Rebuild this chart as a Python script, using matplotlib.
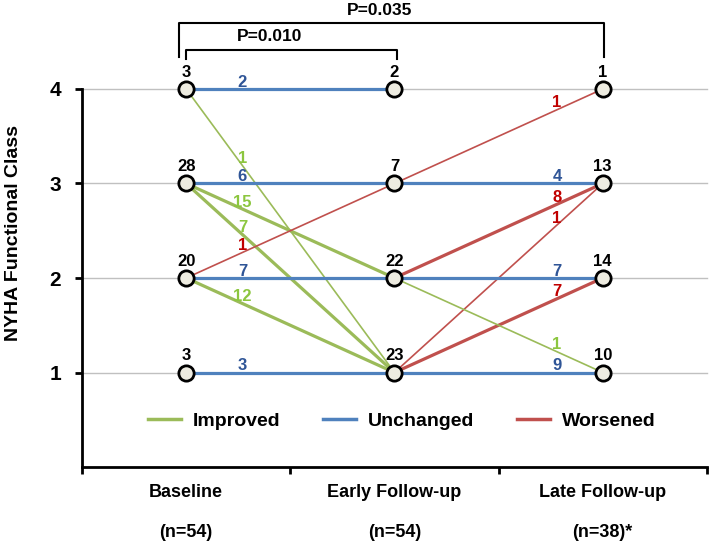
import numpy as np
import matplotlib
matplotlib.use("Agg")
import matplotlib.pyplot as plt
from matplotlib.lines import Line2D

# stages and NYHA class counts (class 1..4)
stages = ["Baseline", "Early Follow-up", "Late Follow-up"]
n_labels = ["(n=54)", "(n=54)", "(n=38)*"]
classes = [1, 2, 3, 4]
baseline_counts = [3, 20, 28, 3]
early_counts = [23, 22, 7, 2]
late_counts = [10, 14, 13, 1]

# transitions baseline -> early follow-up
t1_from = [4, 4, 3, 3, 3, 2, 2, 2, 1]
t1_to = [4, 1, 3, 2, 1, 3, 2, 1, 1]
t1_n = [2, 1, 6, 15, 7, 1, 7, 12, 3]

# transitions early -> late follow-up
t2_from = [3, 3, 2, 1, 2, 1, 2, 1]
t2_to = [4, 3, 3, 3, 2, 2, 1, 1]
t2_n = [1, 4, 8, 1, 7, 7, 1, 9]

p_labels = ["P=0.010", "P=0.035"]

line_col = {"Improved": "#9BBB59", "Unchanged": "#4F81BD", "Worsened": "#C0504D"}
text_col = {"Improved": "#8CC63F", "Unchanged": "#2F5597", "Worsened": "#C00000"}

plt.rcParams['font.family'] = ['Liberation Sans', 'DejaVu Sans']
plt.rcParams['font.weight'] = 'bold'

fig = plt.figure(figsize=(7.09, 5.48), dpi=100)
ax = fig.add_axes([0.1157, 0.1478, 0.8813, 0.6898])

xpos = [0.5, 1.5, 2.5]


def kind(a, b):
    if b < a:
        return "Improved"
    if b == a:
        return "Unchanged"
    return "Worsened"


def draw_segment(x0, x1, froms, tos, ns, frac):
    for a, b, n in zip(froms, tos, ns):
        k = kind(a, b)
        lw = 1.2 if n == 1 else 2.3
        ax.plot([x0, x1], [a, b], color=line_col[k], lw=lw, zorder=2,
                solid_capstyle='butt', clip_on=False)
        lx = x0 + frac * (x1 - x0)
        ly = a + frac * (b - a)
        ax.annotate(str(n), (lx, ly), xytext=(0, 5), textcoords='offset points',
                    ha='center', va='center', fontsize=12, fontweight='bold',
                    color=text_col[k], zorder=4)


for y in classes:
    ax.axhline(y, color='#C0C0C0', lw=1, zorder=0, clip_on=False)

draw_segment(xpos[0], xpos[1], t1_from, t1_to, t1_n, 0.27)
draw_segment(xpos[1], xpos[2], t2_from, t2_to, t2_n, 0.78)

for x, counts in zip(xpos, [baseline_counts, early_counts, late_counts]):
    for c, n in zip(classes, counts):
        ax.plot(x, c, 'o', ms=11, mfc='#EEECE1', mec='black', mew=2,
                zorder=5, clip_on=False)
        ax.annotate(str(n), (x, c), xytext=(0, 12), textcoords='offset points',
                    ha='center', va='center', fontsize=12, fontweight='bold',
                    color='black', zorder=6, annotation_clip=False)

# significance brackets
ax.plot([0.50, 0.50, 1.51, 1.51], [4.32, 4.41, 4.41, 4.32], color='black',
        lw=1.5, clip_on=False)
ax.plot([0.465, 0.465, 2.505, 2.505], [4.34, 4.70, 4.70, 4.34], color='black',
        lw=1.5, clip_on=False)
ax.text(0.90, 4.56, p_labels[0], ha='center', va='center', fontsize=12.5,
        fontweight='bold')
ax.text(1.43, 4.83, p_labels[1], ha='center', va='center', fontsize=12.5,
        fontweight='bold')

ax.set_xlim(0, 3)
ax.set_ylim(0, 4)
ax.set_yticks(classes)
ax.set_yticklabels([str(c) for c in classes], fontsize=15, fontweight='bold')
ax.set_xticks([0, 1, 2, 3])
ax.set_xticklabels([])
ax.set_xticks(xpos, minor=True)
ax.set_xticklabels([s + "\n\n" + n for s, n in zip(stages, n_labels)],
                   minor=True, fontsize=13, fontweight='bold',
                   linespacing=1.25)
ax.tick_params(axis='x', which='minor', length=0, pad=12)
ax.tick_params(axis='x', which='major', length=5, width=2, direction='out')
ax.tick_params(axis='y', length=5, width=2, direction='out', pad=10)

for s in ['top', 'right']:
    ax.spines[s].set_visible(False)
for s in ['left', 'bottom']:
    ax.spines[s].set_linewidth(2)
    ax.spines[s].set_color('black')

fig.text(0.019, 0.575, "NYHA Functional Class", rotation=90, ha='center',
         va='center', fontsize=14, fontweight='bold')

handles = [Line2D([], [], color=line_col[k], lw=2.5) for k in line_col]
ax.legend(handles, list(line_col.keys()), loc='center',
          bbox_to_anchor=(0.512, 0.122), ncol=3, frameon=False,
          prop={'size': 14, 'weight': 'bold'}, handlelength=1.7,
          handletextpad=0.6, columnspacing=2.2)

fig.savefig("out.png", dpi=100)
